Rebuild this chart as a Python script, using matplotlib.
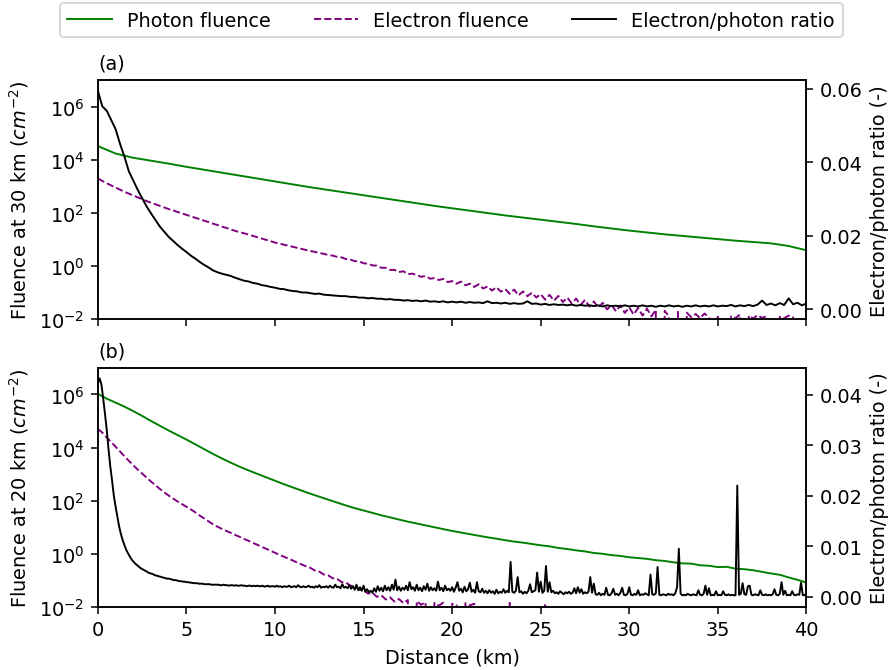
import numpy as np
import matplotlib
matplotlib.use('Agg')
import matplotlib.pyplot as plt
from matplotlib.ticker import NullLocator

# empty bins (no electrons counted) -> fluence 0
Z = -np.inf

# distance bins (km)
dist_km = np.arange(0, 41) * 1.0
dist_half = np.arange(0, 81) * 0.5
dist_q = np.arange(0, 161) * 0.25
dist_t = np.arange(0, 401) * 0.1

# (a) 30 km, fluence given as log10(cm^-2)
photon_a_exp = [4.52, 4.24, 4.08, 3.97, 3.86, 3.74, 3.63, 3.52, 3.41, 3.30,
                3.19, 3.08, 2.97, 2.87, 2.77, 2.67, 2.57, 2.47, 2.37, 2.27,
                2.18, 2.09, 2.00, 1.91, 1.83, 1.75, 1.67, 1.59, 1.50, 1.42,
                1.34, 1.27, 1.20, 1.14, 1.08, 1.02, 0.96, 0.91, 0.86, 0.76, 0.60]

electron_a_exp = [3.30, 3.21, 3.12, 3.04, 2.96, 2.88, 2.80, 2.73,
                  2.66, 2.59, 2.52, 2.45, 2.39, 2.33, 2.27, 2.21,
                  2.15, 2.10, 2.04, 1.99, 1.93, 1.88, 1.82, 1.77,
                  1.71, 1.66, 1.60, 1.55, 1.49, 1.44, 1.38, 1.33,
                  1.28, 1.24, 1.19, 1.14, 1.09, 1.04, 0.99, 0.94,
                  0.89, 0.85, 0.81, 0.77, 0.73, 0.69, 0.65, 0.61,
                  0.57, 0.54, 0.49, 0.47, 0.42, 0.40, 0.35, 0.33,
                  0.27, 0.25, 0.19, 0.18, 0.11, 0.09, 0.03, 0.02,
                  -0.06, -0.06, -0.14, -0.14, -0.22, -0.19, -0.30, -0.28,
                  -0.33, -0.40, -0.37, -0.47, -0.45, -0.52, -0.48, -0.60,
                  -0.56, -0.66, -0.58, -0.72, -0.66, -0.78, -0.68, -0.84,
                  -0.76, -0.92, -0.79, -0.96, -0.86, -1.04, -0.88, -1.10,
                  -0.95, -1.13, -1.00, -1.18, -1.05, -1.26, -1.08, -1.30,
                  -1.12, -1.35, -1.18, -1.40, -1.22, -1.46, -1.27, -1.52,
                  -1.33, -1.56, -1.38, -1.63, -1.45, -1.70, -1.48, -1.76,
                  -1.55, -1.82, -1.57, -1.86, -1.60, -1.89, -1.64, Z,
                  -1.68, -1.90, Z, -1.72, Z, -1.75, -1.92, -1.80,
                  -1.96, -1.78, -1.94, Z, -1.85, Z, Z, -1.88,
                  -1.96, -1.82, Z, -1.86, -1.97, -1.84, -1.95, -1.88,
                  Z, Z, -1.90, -1.96, -1.86, -1.92, Z, Z,
                  Z]

ratio_a = [0.0594, 0.0552, 0.0540, 0.0515, 0.0490, 0.0450, 0.0415, 0.0375,
           0.0350, 0.0325, 0.0302, 0.0280, 0.0261, 0.0243, 0.0225, 0.0211,
           0.0197, 0.0186, 0.0175, 0.0165, 0.0156, 0.0146, 0.0138, 0.0129,
           0.0121, 0.0114, 0.0106, 0.0101, 0.0097, 0.0094, 0.0091, 0.0086,
           0.0082, 0.0078, 0.0076, 0.0072, 0.0070, 0.0066, 0.0064, 0.0061,
           0.0059, 0.0056, 0.0055, 0.0052, 0.0050, 0.0049, 0.0046, 0.0046,
           0.0044, 0.0042, 0.0043, 0.0040, 0.0039, 0.0038, 0.0037, 0.0036,
           0.0036, 0.0034, 0.0034, 0.0032, 0.0032, 0.0030, 0.0031, 0.0029,
           0.0029, 0.0027, 0.0028, 0.0026, 0.0026, 0.0024, 0.0025, 0.0023,
           0.0024, 0.0022, 0.0024, 0.0021, 0.0022, 0.0020, 0.0022, 0.0019,
           0.0021, 0.0019, 0.0021, 0.0018, 0.0020, 0.0018, 0.0019, 0.0017,
           0.0022, 0.0017, 0.0018, 0.0016, 0.0018, 0.0015, 0.0017, 0.0015,
           0.0016, 0.0022, 0.0015, 0.0016, 0.0013, 0.0015, 0.0012, 0.0014,
           0.0012, 0.0013, 0.0011, 0.0013, 0.0010, 0.0012, 0.0010, 0.0011,
           0.0009, 0.0011, 0.0008, 0.0011, 0.0009, 0.0010, 0.0008, 0.0011,
           0.0008, 0.0010, 0.0008, 0.0011, 0.0008, 0.0010, 0.0007, 0.0010,
           0.0008, 0.0011, 0.0008, 0.0010, 0.0007, 0.0010, 0.0008, 0.0011,
           0.0008, 0.0010, 0.0008, 0.0011, 0.0008, 0.0010, 0.0009, 0.0012,
           0.0008, 0.0011, 0.0009, 0.0012, 0.0009, 0.0013, 0.0024, 0.0012,
           0.0016, 0.0011, 0.0017, 0.0012, 0.0030, 0.0014, 0.0018, 0.0011,
           0.0016]

# (b) 20 km
photon_b_exp = [6.02, 5.84, 5.69, 5.54, 5.37, 5.19, 5.00, 4.82, 4.64, 4.47,
                4.30, 4.12, 3.94, 3.76, 3.59, 3.43, 3.28, 3.14, 3.01, 2.88,
                2.75, 2.62, 2.50, 2.38, 2.26, 2.15, 2.04, 1.93, 1.82, 1.72,
                1.63, 1.54, 1.45, 1.37, 1.29, 1.21, 1.14, 1.07, 1.00, 0.93,
                0.86, 0.80, 0.74, 0.68, 0.62, 0.57, 0.51, 0.46, 0.42, 0.37,
                0.32, 0.28, 0.22, 0.18, 0.13, 0.09, 0.03, 0.00, -0.05, -0.08,
                -0.13, -0.16, -0.19, -0.24, -0.27, -0.32, -0.36, -0.37, -0.43, -0.45,
                -0.50, -0.49, -0.56, -0.58, -0.62, -0.68, -0.74, -0.79, -0.89, -0.98,
                -1.08]

electron_b_exp = ([4.70, 4.56, 4.38, 4.21, 4.03, 3.85, 3.67, 3.50,
                   3.33, 3.17, 3.02, 2.87, 2.72, 2.58, 2.44, 2.31,
                   2.19, 2.08, 1.97, 1.87, 1.77, 1.67, 1.56, 1.44,
                   1.33, 1.22, 1.11, 1.02, 0.94, 0.86, 0.79, 0.71,
                   0.64, 0.56, 0.49, 0.41, 0.34, 0.26, 0.19, 0.11,
                   0.04, -0.04, -0.11, -0.18, -0.25, -0.33, -0.40, -0.47,
                   -0.53, -0.63, -0.67, -0.78, -0.81, -0.92, -0.94, -1.06,
                   -1.08, -1.20, -1.22, -1.35, -1.36, -1.50, -1.46, -1.62,
                   -1.56, -1.72, -1.64, -1.80, -1.70, -1.86, -1.74, Z,
                   -1.78, -1.92, -1.82, Z, -1.85, -1.95, -1.84, Z,
                   -1.88, -1.93, Z, -1.86, -1.94, -1.88, Z, Z,
                   Z, Z, Z, Z, Z, -1.85, Z, Z,
                   Z, Z, Z, Z, Z, -1.93]
                  + [Z] * 59)

ratio_b = [0.0422, 0.0432, 0.0420, 0.0392, 0.0362, 0.0330, 0.0292, 0.0258, 0.0230, 0.0200,
           0.0178, 0.0158, 0.0139, 0.0124, 0.0112, 0.0102, 0.0093, 0.0086, 0.0080, 0.0074,
           0.0070, 0.0066, 0.0063, 0.0060, 0.0057, 0.0055, 0.0053, 0.0051, 0.0049, 0.0047,
           0.0046, 0.0045, 0.0043, 0.0042, 0.0041, 0.0040, 0.0039, 0.0038, 0.0037, 0.0036,
           0.0036, 0.0035, 0.0034, 0.0033, 0.0033, 0.0032, 0.0031, 0.0031, 0.0030, 0.0030,
           0.0029, 0.0029, 0.0028, 0.0028, 0.0027, 0.0027, 0.0027, 0.0026, 0.0026, 0.0026,
           0.0025, 0.0025, 0.0025, 0.0025, 0.0024, 0.0024, 0.0024, 0.0024, 0.0024, 0.0023,
           0.0023, 0.0024, 0.0023, 0.0023, 0.0022, 0.0023, 0.0023, 0.0022, 0.0023, 0.0022,
           0.0022, 0.0023, 0.0022, 0.0022, 0.0021, 0.0022, 0.0022, 0.0021, 0.0022, 0.0021,
           0.0022, 0.0021, 0.0021, 0.0022, 0.0020, 0.0021, 0.0022, 0.0020, 0.0021, 0.0021,
           0.0020, 0.0022, 0.0020, 0.0021, 0.0019, 0.0021, 0.0020, 0.0020, 0.0022, 0.0019,
           0.0020, 0.0021, 0.0019, 0.0023, 0.0020, 0.0019, 0.0021, 0.0019, 0.0020, 0.0022,
           0.0019, 0.0020, 0.0018, 0.0021, 0.0019, 0.0023, 0.0018, 0.0020, 0.0019, 0.0021,
           0.0018, 0.0022, 0.0019, 0.0018, 0.0024, 0.0019, 0.0020, 0.0017, 0.0025, 0.0018,
           0.0020, 0.0017, 0.0023, 0.0016, 0.0021, 0.0014, 0.0024, 0.0013, 0.0019, 0.0012,
           0.0022, 0.0010, 0.0015, 0.0009, 0.0012, 0.0008, 0.0017, 0.0010, 0.0021, 0.0012,
           0.0018, 0.0011, 0.0022, 0.0013, 0.0019, 0.0012, 0.0024, 0.0014, 0.0034, 0.0013,
           0.0020, 0.0012, 0.0018, 0.0014, 0.0022, 0.0013, 0.0029, 0.0015, 0.0019, 0.0012,
           0.0024, 0.0013, 0.0018, 0.0011, 0.0021, 0.0014, 0.0026, 0.0012, 0.0019, 0.0013,
           0.0017, 0.0012, 0.0030, 0.0013, 0.0018, 0.0011, 0.0022, 0.0013, 0.0016, 0.0012,
           0.0019, 0.0010, 0.0018, 0.0029, 0.0012, 0.0016, 0.0009, 0.0020, 0.0011, 0.0015,
           0.0028, 0.0010, 0.0014, 0.0008, 0.0029, 0.0011, 0.0009, 0.0016, 0.0008, 0.0012,
           0.0007, 0.0013, 0.0008, 0.0011, 0.0006, 0.0014, 0.0007, 0.0010, 0.0008, 0.0015,
           0.0008, 0.0012, 0.0009, 0.0069, 0.0010, 0.0008, 0.0012, 0.0039, 0.0009, 0.0011,
           0.0006, 0.0010, 0.0007, 0.0012, 0.0025, 0.0009, 0.0011, 0.0013, 0.0048, 0.0010,
           0.0030, 0.0008, 0.0012, 0.0061, 0.0010, 0.0029, 0.0009, 0.0012, 0.0007, 0.0009,
           0.0006, 0.0011, 0.0008, 0.0005, 0.0009, 0.0007, 0.0010, 0.0006, 0.0008, 0.0017,
           0.0007, 0.0019, 0.0008, 0.0015, 0.0006, 0.0009, 0.0007, 0.0010, 0.0039, 0.0008,
           0.0026, 0.0005, 0.0004, 0.0008, 0.0003, 0.0006, 0.0004, 0.0018, 0.0004, 0.0003,
           0.0007, 0.0016, 0.0004, 0.0006, 0.0003, 0.0008, 0.0018, 0.0004, 0.0003, 0.0006,
           0.0019, 0.0004, 0.0003, 0.0006, 0.0004, 0.0013, 0.0003, 0.0005, 0.0004, 0.0007,
           0.0005, 0.0003, 0.0044, 0.0005, 0.0004, 0.0007, 0.0059, 0.0004, 0.0003, 0.0005,
           0.0004, 0.0003, 0.0006, 0.0004, 0.0005, 0.0003, 0.0007, 0.0019, 0.0095, 0.0006,
           0.0003, 0.0004, 0.0003, 0.0006, 0.0004, 0.0003, 0.0005, 0.0004, 0.0003, 0.0013,
           0.0004, 0.0003, 0.0006, 0.0022, 0.0004, 0.0017, 0.0003, 0.0004, 0.0003, 0.0011,
           0.0003, 0.0004, 0.0003, 0.0011, 0.0004, 0.0003, 0.0005, 0.0003, 0.0004, 0.0003,
           0.0003, 0.0220, 0.0004, 0.0006, 0.0027, 0.0005, 0.0004, 0.0021, 0.0022, 0.0004,
           0.0003, 0.0005, 0.0004, 0.0003, 0.0013, 0.0004, 0.0003, 0.0005, 0.0003, 0.0004,
           0.0003, 0.0005, 0.0015, 0.0004, 0.0003, 0.0006, 0.0029, 0.0004, 0.0012, 0.0003,
           0.0004, 0.0003, 0.0011, 0.0004, 0.0003, 0.0005, 0.0004, 0.0028, 0.0003, 0.0004,
           0.0003]

panels = [
    ('(a)', 'Fluence at 30 km ($cm^{-2}$)', dist_km, photon_a_exp, electron_a_exp,
     dist_q, ratio_a, (-0.0027, 0.0623)),
    ('(b)', 'Fluence at 20 km ($cm^{-2}$)', dist_half, photon_b_exp, electron_b_exp,
     dist_t, ratio_b, (-0.0020, 0.0453)),
]

fig, axes = plt.subplots(2, 1, sharex=True, figsize=(6.403, 4.827), dpi=139)
fig.subplots_adjust(left=0.110, right=0.906, top=0.879, bottom=0.094, hspace=0.203)

for ax, (tag, ylab, xp, ph, el, xr, rat, rlim) in zip(axes, panels):
    l1, = ax.semilogy(xp, 10.0 ** np.array(ph), color='green', lw=1, label='Photon fluence')
    l2, = ax.semilogy(dist_q, 10.0 ** np.array(el), color='purple', ls='--', lw=1,
                      label='Electron fluence')
    ax.set_ylim(1e-2, 1e7)
    ax.set_yticks([1e-2, 1e0, 1e2, 1e4, 1e6])
    ax.yaxis.set_minor_locator(NullLocator())
    ax.set_ylabel(ylab)
    ax.set_title(tag, loc='left', fontsize=10)
    ax.set_xlim(0, 40)

    axr = ax.twinx()
    l3, = axr.plot(xr, rat, color='black', lw=1, label='Electron/photon ratio')
    axr.set_ylim(*rlim)
    axr.set_ylabel('Electron/photon ratio (-)')

axes[1].set_xlabel('Distance (km)')
axes[1].set_xticks(range(0, 41, 5))

fig.legend([l1, l2, l3], [l1.get_label(), l2.get_label(), l3.get_label()],
           loc='upper center', ncol=3, bbox_to_anchor=(0.507, 1.0),
           borderaxespad=0.2, handlelength=2.3, columnspacing=2.2)

fig.savefig('out.png', dpi=139)
